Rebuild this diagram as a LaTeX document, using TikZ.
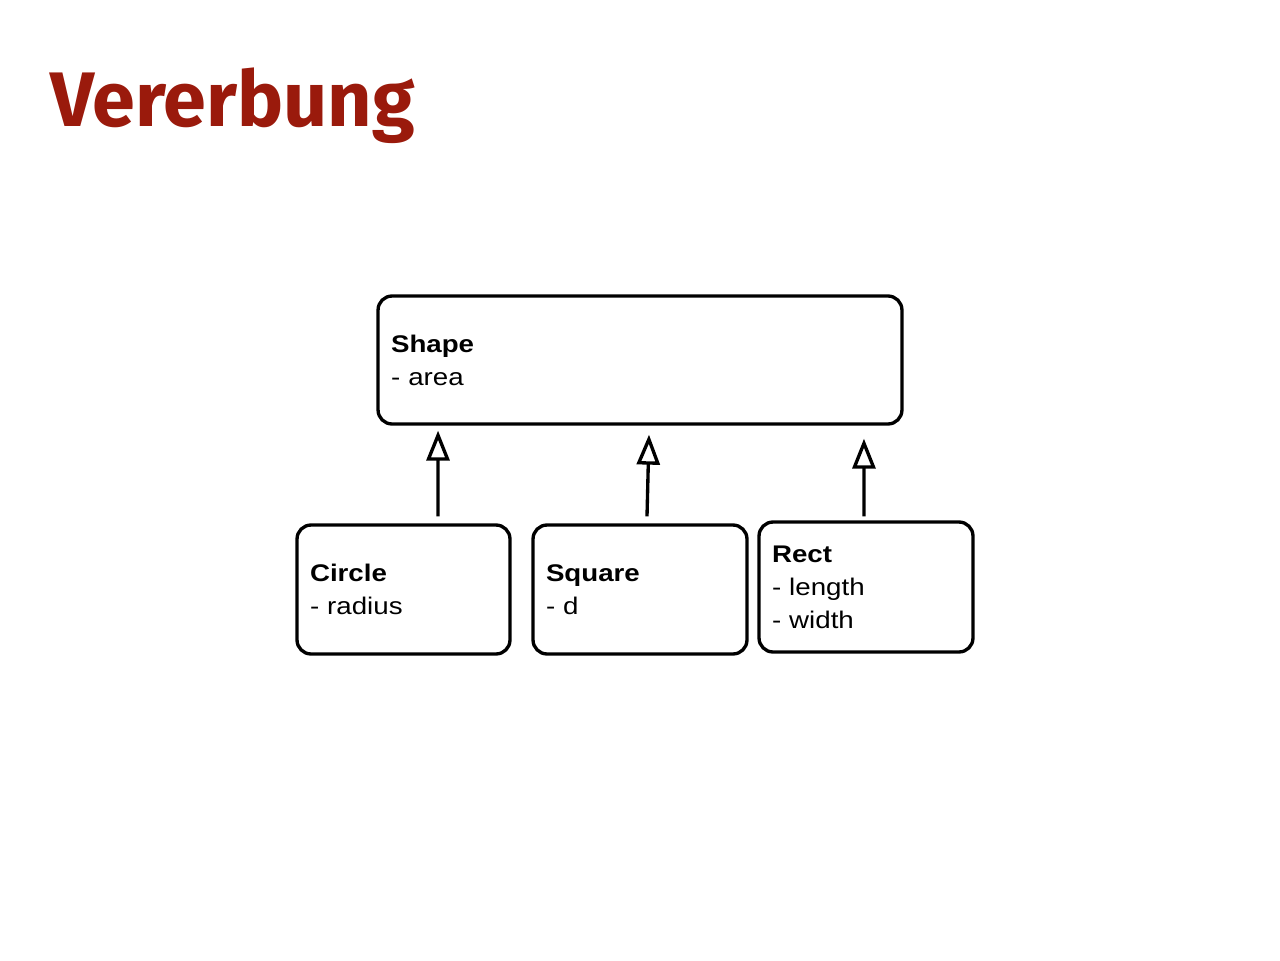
\documentclass[tikz,border=0pt]{standalone}
\usepackage{fontspec}
\setmainfont[FakeStretch=1.15]{Liberation Sans}
\newfontfamily\titlefont{Fira Sans}
\usetikzlibrary{arrows.meta}
\definecolor{titlered}{HTML}{9A1A0C}

\begin{document}
\begin{tikzpicture}[x=0.02cm, y=-0.02cm,
  classbox/.style={draw, line width=1.9pt, rounded corners=0.28cm, align=left,
    inner xsep=0.26cm, inner ysep=0pt, minimum height=2.58cm,
    font=\fontsize{13.7}{18.8}\selectfont},
  inherit/.style={line width=1.9pt, -{Triangle[open, length=0.6cm, width=0.46cm]}}]
\useasboundingbox (0,0) rectangle (1280,960);
\node[anchor=base west, text=titlered, inner sep=0pt,
  font=\titlefont\bfseries\fontsize{44}{48}\selectfont] (title) at (50,126) {Vererbung};
% superclass
\node[classbox, text width=9.96cm, minimum height=2.56cm] (shape) at (640,360)
  {\textbf{Shape}\\- area};
% subclasses
\node[classbox, text width=3.74cm] (circ) at (403.5,589.5) {\textbf{Circle}\\- radius};
\node[classbox, text width=3.76cm] (sq) at (640,589.5) {\textbf{Square}\\- d};
\node[classbox, text width=3.76cm, minimum height=2.6cm] (rect) at (866,587)
  {\textbf{Rect}\\- length\\- width};
\draw[inherit] ([xshift=0.69cm,yshift=0.14cm]circ.north) -- ([xshift=-4.04cm,yshift=-0.1cm]shape.south);
\draw[inherit] ([xshift=0.14cm,yshift=0.14cm]sq.north) -- ([xshift=0.18cm,yshift=-0.18cm]shape.south);
\draw[inherit] ([xshift=-0.04cm,yshift=0.08cm]rect.north) -- ([xshift=4.48cm,yshift=-0.26cm]shape.south);
\end{tikzpicture}
\end{document}
